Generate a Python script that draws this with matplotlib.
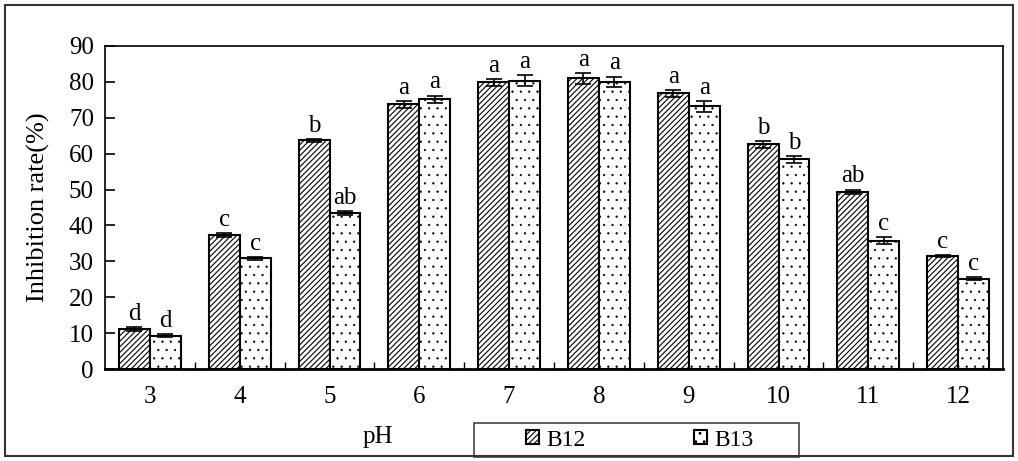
import matplotlib
matplotlib.use('Agg')
import matplotlib.pyplot as plt
from matplotlib.patches import Rectangle
import numpy as np

# data
ph = [3, 4, 5, 6, 7, 8, 9, 10, 11, 12]
b12 = [11.2, 37.3, 63.7, 73.7, 79.9, 81.0, 76.8, 62.6, 49.4, 31.5]
b13 = [9.3, 30.9, 43.5, 75.2, 80.3, 80.0, 73.2, 58.4, 35.7, 25.2]
b12_err = [0.5, 0.5, 0.4, 1.0, 1.0, 1.5, 1.0, 1.0, 0.6, 0.3]
b13_err = [0.4, 0.4, 0.6, 1.0, 1.5, 1.5, 1.5, 1.0, 1.0, 0.5]
b12_sig = ['d', 'c', 'b', 'a', 'a', 'a', 'a', 'b', 'ab', 'c']
b13_sig = ['d', 'c', 'ab', 'a', 'a', 'a', 'a', 'b', 'c', 'c']

plt.rcParams['font.family'] = ['Liberation Serif', 'DejaVu Serif']
plt.rcParams['hatch.linewidth'] = 0.8
FS = 18

fig = plt.figure(figsize=(10.18, 4.61), dpi=100)
ax = fig.add_axes([105 / 1018, 92 / 461, 898 / 1018, 323 / 461])

x = np.array(ph, dtype=float)
w = 0.345
bars12 = ax.bar(x - w / 2, b12, w, color='white', edgecolor='black', linewidth=1.5,
                hatch='//////', label='B12', zorder=2)
bars13 = ax.bar(x + w / 2, b13, w, color='white', edgecolor='black', linewidth=1.5,
                hatch='..', label='B13', zorder=2)
for p in bars13:
    if hasattr(p, 'set_hatch_linewidth'):
        p.set_hatch_linewidth(0.4)

ax.errorbar(x - w / 2, b12, yerr=b12_err, fmt='none', ecolor='black',
            elinewidth=1.2, capsize=6, capthick=1.2, zorder=3)
ax.errorbar(x + w / 2, b13, yerr=b13_err, fmt='none', ecolor='black',
            elinewidth=1.2, capsize=6, capthick=1.2, zorder=3)

for xi, v, e, s in zip(x - w / 2, b12, b12_err, b12_sig):
    ax.annotate(s, (xi, v + e), xytext=(0, 1.5), textcoords='offset points',
                ha='center', va='bottom', fontsize=FS)
for xi, v, e, s in zip(x + w / 2, b13, b13_err, b13_sig):
    ax.annotate(s, (xi, v + e), xytext=(0, 1.5), textcoords='offset points',
                ha='center', va='bottom', fontsize=FS)

ax.set_xlim(2.5, 12.5)
ax.set_ylim(0, 90)
ax.set_yticks(range(0, 91, 10))
ax.set_xticks(ph)
ax.set_xticks(np.arange(3.5, 12, 1.0), minor=True)
ax.tick_params(axis='x', which='major', length=0, pad=12, labelsize=FS)
ax.tick_params(axis='x', which='minor', direction='in', length=5, width=1)
ax.tick_params(axis='y', direction='in', length=7, width=1.2, pad=8, labelsize=FS)
for sp in ax.spines.values():
    sp.set_linewidth(1.2)
ax.spines['bottom'].set_linewidth(2)

fig.text(38 / 1018, 1 - 207 / 461, 'Inhibition rate(%)', rotation=90,
         ha='center', va='center', fontsize=19)
fig.text(378 / 1018, 1 - 437 / 461, 'pH', ha='center', va='center', fontsize=FS)

# legend entries without frame, box drawn separately (wider than the entries)
handles, labels = ax.get_legend_handles_labels()
fig.legend(handles, labels, loc='center', bbox_to_anchor=(640 / 1018, 1 - 440 / 461),
           ncol=2, frameon=False, fontsize=17, handlelength=0.55, handleheight=0.55,
           handletextpad=0.3, columnspacing=4.6, borderpad=0.25, borderaxespad=0)
fig.patches.append(Rectangle((474 / 1018, 1 - 457 / 461), 325 / 1018, 34 / 461,
                             transform=fig.transFigure, fill=False,
                             edgecolor='#444444', linewidth=1.2))

fig.patches.append(Rectangle((5 / 1018, 5 / 461), 1008 / 1018, 451 / 461,
                             transform=fig.transFigure, fill=False,
                             edgecolor='#333333', linewidth=1.5))

fig.savefig('out.png', dpi=100)
